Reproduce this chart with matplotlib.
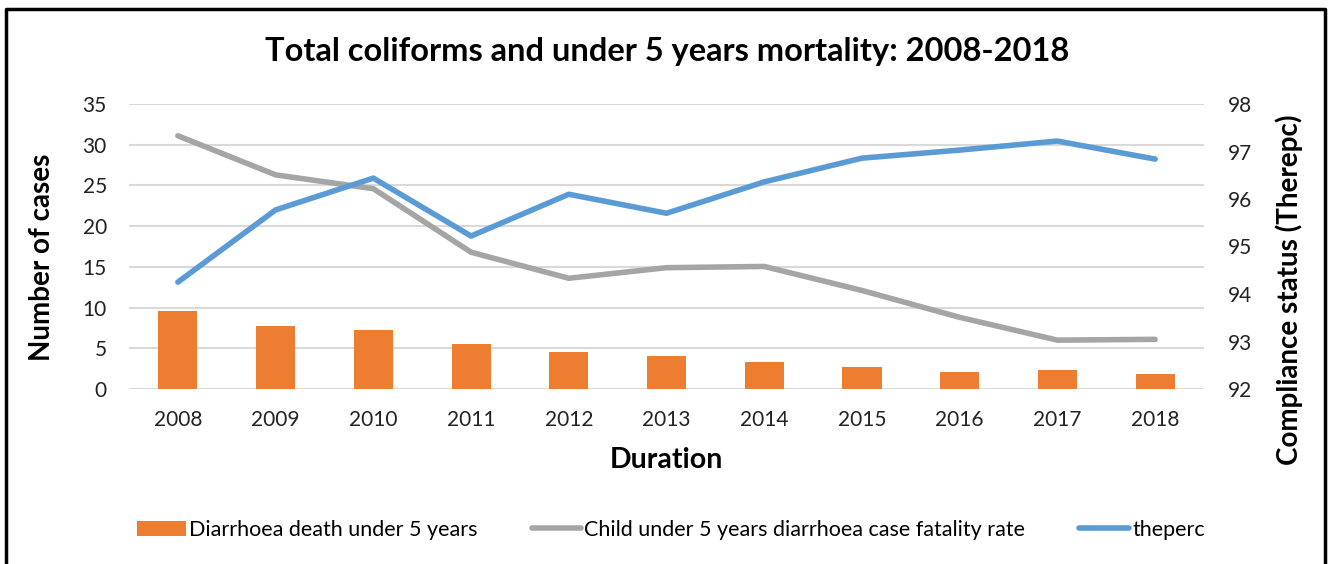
import matplotlib.pyplot as plt
import numpy as np
from matplotlib.lines import Line2D

plt.rcParams['font.family'] = ['Lato', 'DejaVu Sans']

years = ['2008', '2009', '2010', '2011', '2012', '2013', '2014', '2015', '2016', '2017', '2018']
deaths = [9.6, 7.7, 7.2, 5.5, 4.5, 4.0, 3.3, 2.7, 2.1, 2.3, 1.8]
fatality = [31.1, 26.3, 24.6, 16.8, 13.6, 14.9, 15.05, 12.1, 8.8, 6.0, 6.1]
theperc = [94.25, 95.77, 96.44, 95.22, 96.1, 95.7, 96.36, 96.86, 97.03, 97.22, 96.84]

x = np.arange(len(years))

fig = plt.figure(figsize=(13.28, 5.64), dpi=100)
ax = fig.add_axes([129/1328, 1-389/564, 1075/1328, 285/564])
ax2 = ax.twinx()

bars = ax.bar(x, deaths, width=0.4, color='#ED7D31', label='Diarrhoea death under 5 years', zorder=2)
l1, = ax.plot(x, fatality, color='#A5A5A5', lw=4, solid_capstyle='round',
              label='Child under 5 years diarrhoea case fatality rate', zorder=3)
l2, = ax2.plot(x, theperc, color='#5B9BD5', lw=4, solid_capstyle='round', label='theperc', zorder=3)

ax.set_xlim(-0.5, len(years) - 0.5)
ax.set_ylim(0, 35)
ax.set_yticks(range(0, 36, 5))
ax2.set_ylim(92, 98)
ax2.set_yticks(range(92, 99))
ax.set_xticks(x)
ax.set_xticklabels(years)

ax.grid(axis='y', color='#D9D9D9', lw=1.5, zorder=0)
ax.set_axisbelow(True)
for a in (ax, ax2):
    for s in a.spines.values():
        s.set_visible(False)
    a.tick_params(length=0, labelsize=15, colors='#222222')
ax.tick_params(axis='x', pad=15)
ax.tick_params(axis='y', pad=16)
ax2.tick_params(axis='y', pad=17)

ax.set_xlabel('Duration', fontsize=20.5, fontweight='bold')
ax.xaxis.set_label_coords(0.5, -58 / 285)
ax.set_ylabel('Number of cases', fontsize=20, fontweight='bold')
ax.yaxis.set_label_coords(-0.069, 0.463)
ax2.set_ylabel('Compliance status (Therepc)', fontsize=20, fontweight='bold')
ax2.yaxis.set_label_coords(1.066, 0.347)

fig.text(0.502, 1-52/564, 'Total coliforms and under 5 years mortality: 2008-2018',
         ha='center', va='center', fontsize=23.5, fontweight='bold')

fig.legend([bars, l1, l2], [bars.get_label(), l1.get_label(), l2.get_label()],
           loc='center', bbox_to_anchor=(0.505, 1-530/564), ncol=3, frameon=False,
           fontsize=15.5, handlelength=2.3, handletextpad=0.15, columnspacing=2.5)

fig.add_artist(Line2D([6/1328, 6/1328, 1325/1328, 1325/1328], [0, 1-9/564, 1-9/564, 0],
                      transform=fig.transFigure, color='black', lw=2.5))

fig.savefig('out.png', dpi=100)
